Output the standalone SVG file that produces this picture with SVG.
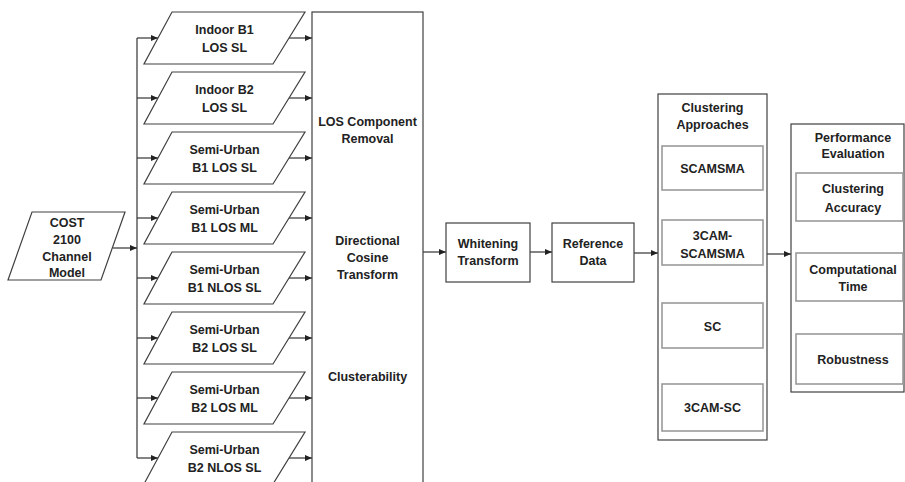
<svg xmlns="http://www.w3.org/2000/svg" width="905" height="482" viewBox="0 0 905 482">
<defs>
<marker id="ah" markerWidth="7" markerHeight="6" refX="7" refY="3" orient="auto" markerUnits="userSpaceOnUse">
<path d="M0,0 L7,3 L0,6 z" fill="#222"/>
</marker>
<style>
.s{fill:#fff;stroke:#404040;stroke-width:1.2}
.in{fill:#fff;stroke:#9a9a9a;stroke-width:1.6}
.t{font-family:"Liberation Sans",Arial,sans-serif;font-weight:bold;font-size:12.5px;fill:#222;text-anchor:middle}
.c{fill:none;stroke:#333;stroke-width:1.2;marker-end:url(#ah)}
.l{fill:none;stroke:#333;stroke-width:1.2}
</style>
</defs>
<rect width="905" height="482" fill="#fff"/>

<g id="connectors">
<line class="l" x1="137" y1="38" x2="137" y2="458"/>
<line class="c" x1="113" y1="248" x2="137" y2="248"/>
<line class="c" x1="137" y1="38" x2="158" y2="38"/>
<line class="c" x1="137" y1="98" x2="158" y2="98"/>
<line class="c" x1="137" y1="158" x2="158" y2="158"/>
<line class="c" x1="137" y1="218" x2="158" y2="218"/>
<line class="c" x1="137" y1="278" x2="158" y2="278"/>
<line class="c" x1="137" y1="338" x2="158" y2="338"/>
<line class="c" x1="137" y1="398" x2="158" y2="398"/>
<line class="c" x1="137" y1="458" x2="158" y2="458"/>
<line class="c" x1="289" y1="38" x2="312" y2="38"/>
<line class="c" x1="289" y1="98" x2="312" y2="98"/>
<line class="c" x1="289" y1="158" x2="312" y2="158"/>
<line class="c" x1="289" y1="218" x2="312" y2="218"/>
<line class="c" x1="289" y1="278" x2="312" y2="278"/>
<line class="c" x1="289" y1="338" x2="312" y2="338"/>
<line class="c" x1="289" y1="398" x2="312" y2="398"/>
<line class="c" x1="289" y1="458" x2="312" y2="458"/>
<line class="c" x1="423" y1="252" x2="446" y2="252"/>
<line class="c" x1="530" y1="252" x2="552" y2="252"/>
<line class="c" x1="634" y1="253" x2="658" y2="253"/>
<line class="c" x1="767" y1="254" x2="791" y2="254"/>
</g>

<g id="cost">
<polygon class="s" points="32,212 125,212 101,280 8,280"/>
<text class="t" x="67" y="226.5">COST</text>
<text class="t" x="67" y="243.5">2100</text>
<text class="t" x="67" y="260.5">Channel</text>
<text class="t" x="67" y="276.5">Model</text>
</g>

<g id="indoor-b1">
<polygon class="s" points="172,12 305,12 273,64 144,64"/>
<text class="t" x="224.5" y="33.5">Indoor B1</text>
<text class="t" x="224.5" y="51.5">LOS SL</text>
</g>
<g id="indoor-b2">
<polygon class="s" points="172,72 305,72 273,124 144,124"/>
<text class="t" x="224.5" y="93.5">Indoor B2</text>
<text class="t" x="224.5" y="111.5">LOS SL</text>
</g>
<g id="su-b1-los-sl">
<polygon class="s" points="172,132 305,132 273,184 144,184"/>
<text class="t" x="224.5" y="153.5">Semi-Urban</text>
<text class="t" x="224.5" y="171.5">B1 LOS SL</text>
</g>
<g id="su-b1-los-ml">
<polygon class="s" points="172,192 305,192 273,244 144,244"/>
<text class="t" x="224.5" y="213.5">Semi-Urban</text>
<text class="t" x="224.5" y="231.5">B1 LOS ML</text>
</g>
<g id="su-b1-nlos-sl">
<polygon class="s" points="172,252 305,252 273,304 144,304"/>
<text class="t" x="224.5" y="273.5">Semi-Urban</text>
<text class="t" x="224.5" y="291.5">B1 NLOS SL</text>
</g>
<g id="su-b2-los-sl">
<polygon class="s" points="172,312 305,312 273,364 144,364"/>
<text class="t" x="224.5" y="333.5">Semi-Urban</text>
<text class="t" x="224.5" y="351.5">B2 LOS SL</text>
</g>
<g id="su-b2-los-ml">
<polygon class="s" points="172,372 305,372 273,424 144,424"/>
<text class="t" x="224.5" y="393.5">Semi-Urban</text>
<text class="t" x="224.5" y="411.5">B2 LOS ML</text>
</g>
<g id="su-b2-nlos-sl">
<polygon class="s" points="172,432 305,432 273,484 144,484"/>
<text class="t" x="224.5" y="453.5">Semi-Urban</text>
<text class="t" x="224.5" y="471.5">B2 NLOS SL</text>
</g>

<g id="preprocessing">
<rect class="s" x="312" y="12" width="111" height="480"/>
<text class="t" x="367.5" y="125.5">LOS Component</text>
<text class="t" x="367.5" y="142.5">Removal</text>
<text class="t" x="367.5" y="244.5">Directional</text>
<text class="t" x="367.5" y="261.5">Cosine</text>
<text class="t" x="367.5" y="278.5">Transform</text>
<text class="t" x="367.5" y="380.5">Clusterability</text>
</g>

<g id="whitening">
<rect class="s" x="446" y="223" width="84" height="59"/>
<text class="t" x="488" y="247.5">Whitening</text>
<text class="t" x="488" y="264.5">Transform</text>
</g>

<g id="reference">
<rect class="s" x="552" y="223" width="82" height="59"/>
<text class="t" x="593" y="247.5">Reference</text>
<text class="t" x="593" y="264.5">Data</text>
</g>

<g id="clustering">
<rect class="s" x="658" y="94" width="109" height="346"/>
<text class="t" x="712.5" y="111.5">Clustering</text>
<text class="t" x="712.5" y="128.5">Approaches</text>
<rect class="in" x="662" y="146" width="101" height="44"/>
<text class="t" x="712.5" y="172.5">SCAMSMA</text>
<rect class="in" x="662" y="220" width="101" height="45"/>
<text class="t" x="712.5" y="239.5">3CAM-</text>
<text class="t" x="712.5" y="257.5">SCAMSMA</text>
<rect class="in" x="662" y="303" width="101" height="45"/>
<text class="t" x="712.5" y="330.5">SC</text>
<rect class="in" x="662" y="384" width="101" height="47"/>
<text class="t" x="712.5" y="411.5">3CAM-SC</text>
</g>

<g id="performance">
<rect class="s" x="791" y="124" width="113" height="268"/>
<text class="t" x="853" y="141.5">Performance</text>
<text class="t" x="853" y="157.5">Evaluation</text>
<rect class="in" x="796" y="173" width="107" height="48"/>
<text class="t" x="853" y="192.5">Clustering</text>
<text class="t" x="853" y="211.5">Accuracy</text>
<rect class="in" x="796" y="253" width="107" height="48"/>
<text class="t" x="853" y="273.5">Computational</text>
<text class="t" x="853" y="290.5">Time</text>
<rect class="in" x="796" y="334" width="107" height="50"/>
<text class="t" x="853" y="363.5">Robustness</text>
</g>
</svg>
